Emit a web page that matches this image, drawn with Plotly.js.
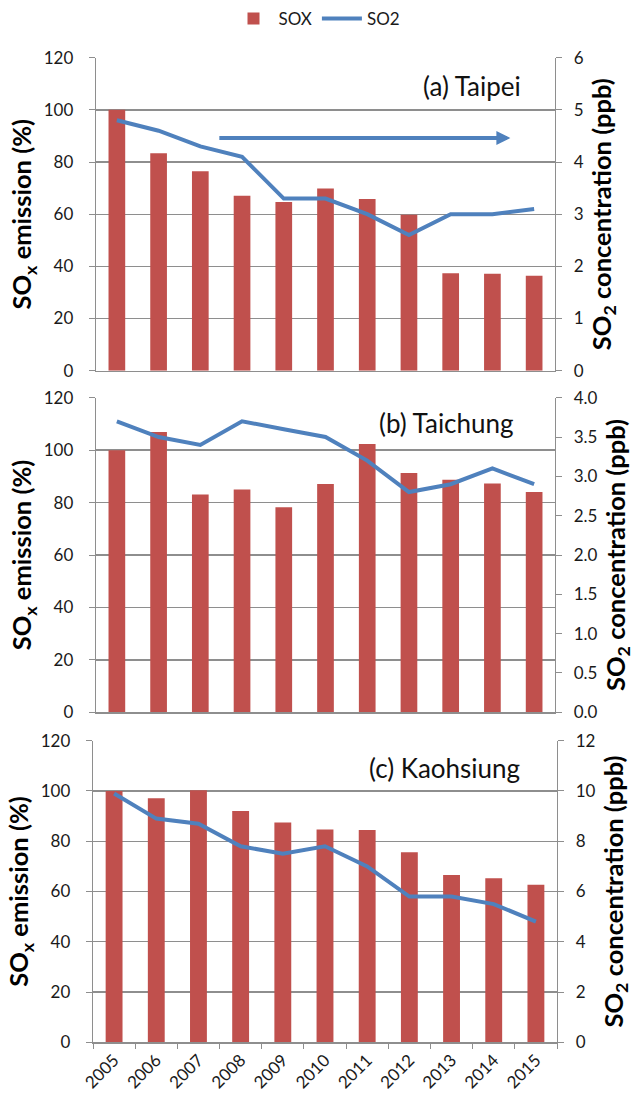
<!DOCTYPE html>
<html>
<head>
<meta charset="utf-8">
<script src="https://cdn.plot.ly/plotly-3.0.1.min.js"></script>
<style>html,body{margin:0;padding:0;background:#fff;}#chart{width:634px;height:1095px;}</style>
</head>
<body>
<div id="chart"></div>
<script>
const years = ['2005','2006','2007','2008','2009','2010','2011','2012','2013','2014','2015'];
const taipeiSOX = [100, 83.4, 76.5, 67.1, 64.7, 69.9, 65.8, 59.8, 37.4, 37.2, 36.4];
const taipeiSO2 = [4.8, 4.6, 4.3, 4.1, 3.3, 3.3, 3.0, 2.6, 3.0, 3.0, 3.1];
const taichungSOX = [100, 106.9, 83.1, 85.0, 78.2, 87.1, 102.3, 91.3, 88.7, 87.3, 84.0];
const taichungSO2 = [3.7, 3.5, 3.4, 3.7, 3.6, 3.5, 3.2, 2.8, 2.9, 3.1, 2.9];
const kaohsiungSOX = [100, 97.1, 100.3, 92.0, 87.5, 84.7, 84.5, 75.6, 66.6, 65.3, 62.7];
const kaohsiungSO2 = [9.9, 8.9, 8.7, 7.8, 7.5, 7.8, 7.0, 5.8, 5.8, 5.5, 4.8];
const panelLabels = ['(a) Taipei', '(b) Taichung', '(c) Kaohsiung'];
const leftTitle = 'SO<sub>x</sub> emission (%)';
const rightTitle = 'SO<sub>2</sub> concentration (ppb)';

const W = 634, H = 1095;
const FONT = 'Lato, "Open Sans", sans-serif';
const RED = '#C0504D', BLUE = '#4F81BD', GRID = '#8e8e8e';
const TICKSIZE = 17, TITLESIZE = 25.5, LABELSIZE = 26;

function px(x){ return x / W; }
function py(y){ return 1 - y / H; }

const panels = [
  {sox: taipeiSOX, so2: taipeiSO2, x: [96,555], y: [57.7,370.7], r2: [0,6], d2: 1, fmt: 'd', lab: [472, 86]},
  {sox: taichungSOX, so2: taichungSO2, x: [96,555], y: [397.7,712.3], r2: [0,4], d2: 0.5, fmt: '.1f', lab: [446, 423]},
  {sox: kaohsiungSOX, so2: kaohsiungSO2, x: [93,557], y: [740.7,1042.3], r2: [0,12], d2: 2, fmt: 'd', lab: [444, 768]}
];

const data = [];
const layout = {
  width: W, height: H,
  margin: {l:0, r:0, t:0, b:0},
  paper_bgcolor: '#fff', plot_bgcolor: 'rgba(0,0,0,0)',
  font: {family: FONT, color: '#1a1a1a', size: TICKSIZE},
  bargap: 0.6,
  showlegend: true,
  legend: {orientation: 'h', x: 0.5, xanchor: 'center', y: py(19), yanchor: 'middle',
           font: {family: FONT, size: 17, color: '#1a1a1a'}, traceorder: 'normal', itemwidth: 40},
  annotations: [], shapes: []
};

panels.forEach((p, i) => {
  const xa = i === 0 ? 'x' : 'x' + (i + 1);
  const yl = 'y' + (i === 0 ? '' : (2 * i + 1));
  const yr = 'y' + (2 * i + 2);
  const xKey = 'xaxis' + (i === 0 ? '' : (i + 1));
  const ylKey = 'yaxis' + (i === 0 ? '' : (2 * i + 1));
  const yrKey = 'yaxis' + (2 * i + 2);
  data.push({type: 'bar', x: years, y: p.sox, xaxis: xa, yaxis: yl, name: 'SOX',
             marker: {color: RED}, showlegend: i === 0, hoverinfo: 'skip'});
  data.push({type: 'scatter', mode: 'lines', x: years, y: p.so2, xaxis: xa, yaxis: yr, name: 'SO2',
             line: {color: BLUE, width: 4}, showlegend: i === 0, hoverinfo: 'skip'});
  layout[xKey] = {
    domain: [px(p.x[0]), px(p.x[1])], anchor: yl, type: 'category',
    showline: true, linecolor: GRID, linewidth: 1.3,
    showgrid: false, zeroline: false,
    showticklabels: i === 2, tickangle: -45,
    ticks: i === 2 ? 'outside' : '', tickson: 'boundaries', ticklen: 5, tickcolor: GRID,
    tickfont: {family: FONT, size: TICKSIZE, color: '#1a1a1a'},
    fixedrange: true
  };
  layout[ylKey] = {
    domain: [py(p.y[1]), py(p.y[0])], anchor: xa, range: [0, 120], dtick: 20,
    showline: true, linecolor: GRID, linewidth: 1.3,
    showgrid: true, gridcolor: GRID, gridwidth: 1.3, zeroline: false,
    ticks: 'outside', ticklen: 6, tickcolor: GRID, ticklabelstandoff: 12,
    tickfont: {family: FONT, size: TICKSIZE, color: '#1a1a1a'},
    title: {text: leftTitle, font: {family: FONT, size: TITLESIZE, color: '#000', weight: 'bold'}, standoff: 4},
    fixedrange: true
  };
  layout[yrKey] = {
    domain: [py(p.y[1]), py(p.y[0])], anchor: xa, overlaying: yl, side: 'right',
    range: p.r2, dtick: p.d2, tickformat: p.fmt,
    showline: true, linecolor: GRID, linewidth: 1.3,
    showgrid: false, zeroline: false,
    ticks: 'outside', ticklen: 6, tickcolor: GRID, ticklabelstandoff: 8,
    tickfont: {family: FONT, size: TICKSIZE, color: '#1a1a1a'},
    title: {text: rightTitle, font: {family: FONT, size: TITLESIZE, color: '#000', weight: 'bold'}, standoff: 10},
    fixedrange: true
  };
  layout.annotations.push({
    xref: 'paper', yref: 'paper', x: px(p.lab[0]), y: py(p.lab[1]),
    xanchor: 'center', yanchor: 'middle', showarrow: false,
    text: panelLabels[i], font: {family: FONT, size: LABELSIZE, color: '#111'}
  });
});

// trend arrow in panel (a)
const arrowFrom = [2.42, 4.46], arrowTo = [9.43, 4.46];
layout.annotations.push({
  xref: 'x', yref: 'y2', axref: 'x', ayref: 'y2',
  x: arrowTo[0], y: arrowTo[1], ax: arrowFrom[0], ay: arrowFrom[1],
  showarrow: true, arrowhead: 2, arrowsize: 0.7, arrowwidth: 4, arrowcolor: BLUE, text: '', standoff: 0
});

Plotly.newPlot('chart', data, layout, {staticPlot: true, displayModeBar: false});
</script>
</body>
</html>
